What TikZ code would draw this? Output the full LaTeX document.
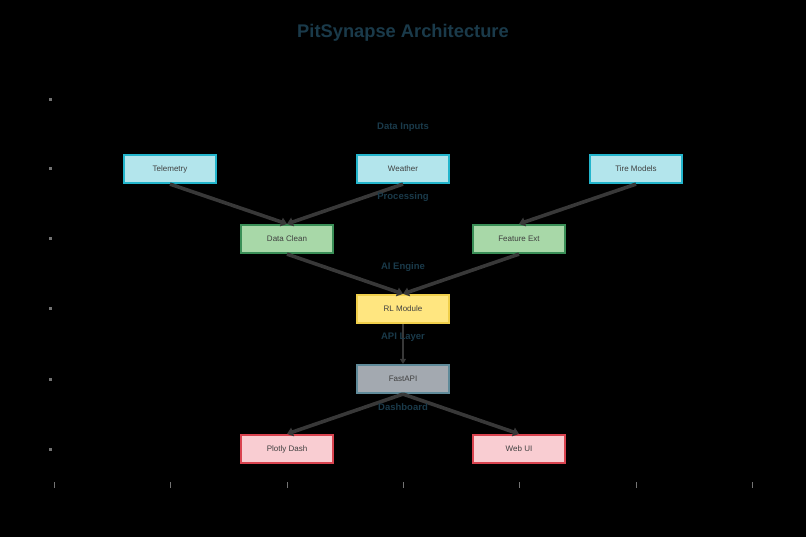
\documentclass[tikz,border=0pt]{standalone}
\usepackage{fontspec}
\setmainfont{Liberation Sans}
\usetikzlibrary{arrows.meta}
\definecolor{ttl}{HTML}{1A3A4A}
\definecolor{inpF}{HTML}{B3E5EC}\definecolor{inpD}{HTML}{22B5CC}
\definecolor{prcF}{HTML}{A8D8A8}\definecolor{prcD}{HTML}{3A8F57}
\definecolor{aiF}{HTML}{FFE680}\definecolor{aiD}{HTML}{F0CF4A}
\definecolor{apiF}{HTML}{A3A9B0}\definecolor{apiD}{HTML}{5F8A99}
\definecolor{outF}{HTML}{F9CDD2}\definecolor{outD}{HTML}{D9434F}
\tikzset{
 box/.style={draw, line width=2.2pt, minimum width=92pt, minimum height=28pt, font=\fontsize{8}{9}\selectfont, text=black!75},
 inpbox/.style={box, fill=inpF, draw=inpD},
 prcbox/.style={box, fill=prcF, draw=prcD},
 aibox/.style={box, fill=aiF, draw=aiD},
 apibox/.style={box, fill=apiF, draw=apiD},
 outbox/.style={box, fill=outF, draw=outD},
 lay/.style={font=\bfseries\fontsize{9.5}{11}\selectfont, text=ttl},
 con/.style={draw=black!78, line width=3.6pt, -{Triangle[length=6pt,width=9pt]}},
 tickmark/.style={draw=black!55, line width=1pt},
}
\begin{document}
\begin{tikzpicture}[x=1pt,y=-1pt]
\fill[black] (0,0) rectangle (806,537);
\useasboundingbox (0,0) rectangle (806,537);
\node[font=\bfseries\fontsize{18.3}{22}\selectfont, text=ttl] (title) at (403,33) {PitSynapse Architecture};
\foreach \y in {100,169,239,309,379,449} \fill[black!55] (48.5,\y-1.5) rectangle (51.5,\y+1.5);
\foreach \x in {54,170,287,403,519,636,752} \draw[tickmark] (\x,482) -- (\x,488);
\node[inpbox] (tel) at (170,169) {Telemetry};
\node[inpbox] (wea) at (403,169) {Weather};
\node[inpbox] (tir) at (636,169) {Tire Models};
\node[prcbox] (dc) at (287,239) {Data Clean};
\node[prcbox] (fe) at (519,239) {Feature Ext};
\node[aibox] (rl) at (403,309) {RL Module};
\node[apibox] (fa) at (403,379) {FastAPI};
\node[outbox] (pd) at (287,449) {Plotly Dash};
\node[outbox] (wu) at (519,449) {Web UI};
\draw[con] (tel.south) -- (dc.north);
\draw[con] (wea.south) -- (dc.north);
\draw[con] (tir.south) -- (fe.north);
\draw[con] (dc.south) -- (rl.north);
\draw[con] (fe.south) -- (rl.north);
\draw[con, line width=1.2pt, -{Triangle[length=5pt,width=6pt]}] (rl.south) -- (fa.north);
\draw[con] (fa.south) -- (pd.north);
\draw[con] (fa.south) -- (wu.north);
\node[lay] (l1) at (403,127) {Data Inputs};
\node[lay] (l2) at (403,197) {Processing};
\node[lay] (l3) at (403,267) {AI Engine};
\node[lay] (l4) at (403,337) {API Layer};
\node[lay] (l5) at (403,407) {Dashboard};
\end{tikzpicture}
\end{document}
